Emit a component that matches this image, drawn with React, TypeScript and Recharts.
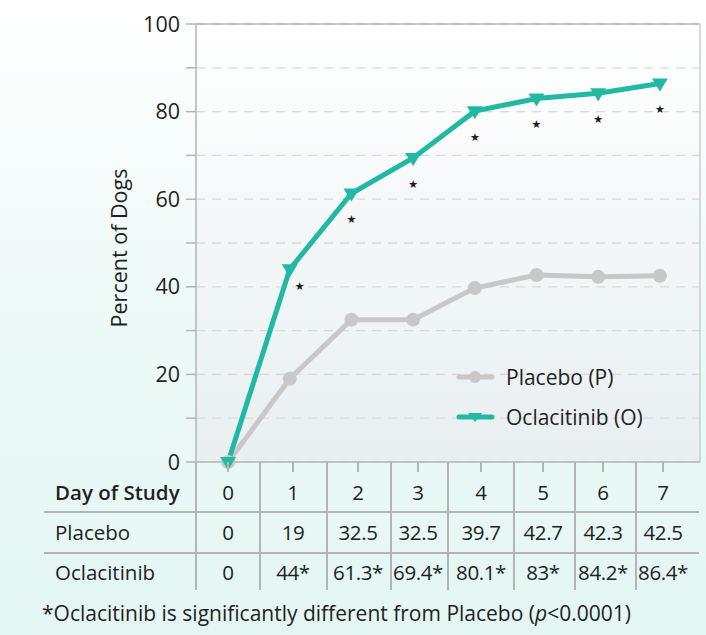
import React from "react"
import { CartesianGrid, Line, LineChart, ReferenceLine, XAxis, YAxis, LabelList } from "recharts"

const days = [0, 1, 2, 3, 4, 5, 6, 7]
const placebo = [0, 19, 32.5, 32.5, 39.7, 42.7, 42.3, 42.5]
const oclacitinib = [0, 44, 61.3, 69.4, 80.1, 83, 84.2, 86.4]
const significant = [false, true, true, true, true, true, true, true]
const yTicks = [0, 10, 20, 30, 40, 50, 60, 70, 80, 90, 100]

const chartData = days.map((day, i) => ({
  day,
  placebo: placebo[i],
  oclacitinib: oclacitinib[i],
}))

const TEAL = "#22b9a4"
const GRAY = "#c8c8c8"
const INK = "#231f20"
const RULE = "#b4b4b4"
const FONT = '"Open Sans", sans-serif'

// table layout
const colEdges = [196, 260, 327, 391, 448, 514, 575, 636]
const colCenters = [228, 293, 358, 418, 481, 543, 603, 663]
const rowCenters = [492, 532, 572]

const TriangleDot = (props: any) => {
  const { cx, cy } = props
  if (cx == null || cy == null) return null
  return <path d={`M${cx - 8},${cy - 5} L${cx + 8},${cy - 5} L${cx},${cy + 8} Z`} fill={TEAL} />
}

const StarMark = (props: any) => {
  const { x, y, index } = props
  if (!significant[index]) return null
  const dx = index === 1 ? 10 : 0
  const dy = index === 1 ? 17 : 26
  return (
    <text x={x + dx} y={y + dy} textAnchor="middle" dominantBaseline="central" fontSize={11} fill={INK} fontFamily="DejaVu Sans">
      ★
    </text>
  )
}

const LegendBox = () => (
  <div style={{ position: "absolute", left: 456, top: 357, fontFamily: FONT, fontSize: 21, color: INK }}>
    <div style={{ display: "flex", alignItems: "center", height: 40 }}>
      <svg width={50} height={20}>
        <line x1={3} y1={10} x2={36} y2={10} stroke={GRAY} strokeWidth={5} strokeLinecap="round" />
        <circle cx={19} cy={10} r={6} fill={GRAY} />
      </svg>
      <span>Placebo (P)</span>
    </div>
    <div style={{ display: "flex", alignItems: "center", height: 40 }}>
      <svg width={50} height={20}>
        <line x1={3} y1={10} x2={36} y2={10} stroke={TEAL} strokeWidth={5} strokeLinecap="round" />
        <path d="M12,6 L26,6 L19,15 Z" fill={TEAL} />
      </svg>
      <span>Oclacitinib (O)</span>
    </div>
  </div>
)

export default function App() {
  return (
    <div
      style={{
        position: "absolute",
        left: 0,
        top: 0,
        width: 706,
        height: 635,
        overflow: "hidden",
        background: "linear-gradient(180deg, #ffffff 0%, #eefaf8 45%, #e3f6f3 100%)",
        fontFamily: FONT,
        color: INK,
      }}
    >
      <div
        style={{
          position: "absolute",
          left: 196,
          top: 24,
          width: 504,
          height: 438,
          background: "linear-gradient(180deg, #ffffff 0%, #e8eff1 100%)",
        }}
      />
      <div style={{ position: "absolute", left: 0, top: 0 }}>
        <LineChart width={706} height={635} data={chartData} margin={{ top: 24, right: 6, bottom: 173, left: 0 }}>
          <CartesianGrid vertical={false} stroke="#d9d9d9" strokeDasharray="9 7" strokeWidth={1.3} />
          <XAxis dataKey="day" type="number" domain={[-0.52, 7.65]} hide />
          <YAxis
            width={196}
            domain={[0, 100]}
            ticks={yTicks}
            interval={0}
            tickSize={10}
            tickMargin={6}
            stroke={RULE}
            strokeWidth={1.5}
            tick={{ fill: INK, fontSize: 21.5, fontFamily: FONT }}
            tickFormatter={(v: number) => (v % 20 === 0 ? String(v) : "")}
            label={(props: any) => {
              const vb = props.viewBox
              const cy = vb.y + vb.height / 2 + 5
              return (
                <text
                  x={118}
                  y={cy}
                  transform={`rotate(-90, 118, ${cy})`}
                  textAnchor="middle"
                  dominantBaseline="central"
                  fontSize={21.5}
                  fontFamily={FONT}
                  fill={INK}
                >
                  Percent of Dogs
                </text>
              )
            }}
          />
          <ReferenceLine y={100} stroke={RULE} strokeWidth={1.5} />
          <ReferenceLine y={0} stroke={RULE} strokeWidth={1.5} />
          <ReferenceLine x={7.65} stroke="#cccccc" strokeWidth={1.5} />
          <Line
            dataKey="placebo"
            stroke={GRAY}
            strokeWidth={5}
            dot={{ r: 7, fill: GRAY, stroke: "none" }}
            isAnimationActive={false}
          />
          <Line
            dataKey="oclacitinib"
            stroke={TEAL}
            strokeWidth={5}
            dot={<TriangleDot />}
            isAnimationActive={false}
          >
            <LabelList dataKey="oclacitinib" content={<StarMark />} />
          </Line>
        </LineChart>
      </div>
      <LegendBox />

      {/* results table under the plot */}
      {colEdges.map((x) => (
        <div key={x} style={{ position: "absolute", left: x - 0.75, top: 462, width: 1.5, height: 128, background: RULE }} />
      ))}
      {colCenters.map((x) => (
        <div key={x} style={{ position: "absolute", left: x - 0.75, top: 462, width: 1.5, height: 10, background: RULE }} />
      ))}
      {[512, 553].map((y) => (
        <div key={y} style={{ position: "absolute", left: 44, top: y - 0.75, width: 655, height: 1.5, background: RULE }} />
      ))}
      {["Day of Study", "Placebo", "Oclacitinib"].map((label, r) => (
        <div
          key={label}
          style={{
            position: "absolute",
            left: 55,
            top: rowCenters[r] - 15,
            height: 30,
            lineHeight: "30px",
            fontSize: 20.5,
            fontWeight: r === 0 ? 600 : 400,
          }}
        >
          {label}
        </div>
      ))}
      {days.map((d, i) => {
        const cells = [String(d), String(placebo[i]), String(oclacitinib[i]) + (significant[i] ? "*" : "")]
        return cells.map((txt, r) => (
          <div
            key={`${i}-${r}`}
            style={{
              position: "absolute",
              left: colCenters[i] - 40,
              width: 80,
              textAlign: "center",
              top: rowCenters[r] - 15,
              height: 30,
              lineHeight: "30px",
              fontSize: 20.5,
              letterSpacing: -0.4,
            }}
          >
            {txt}
          </div>
        ))
      })}
      <div style={{ position: "absolute", left: 42, top: 598, fontSize: 21, lineHeight: "30px", whiteSpace: "nowrap" }}>
        *Oclacitinib is significantly different from Placebo (<i>p</i>&lt;0.0001)
      </div>
    </div>
  )
}
